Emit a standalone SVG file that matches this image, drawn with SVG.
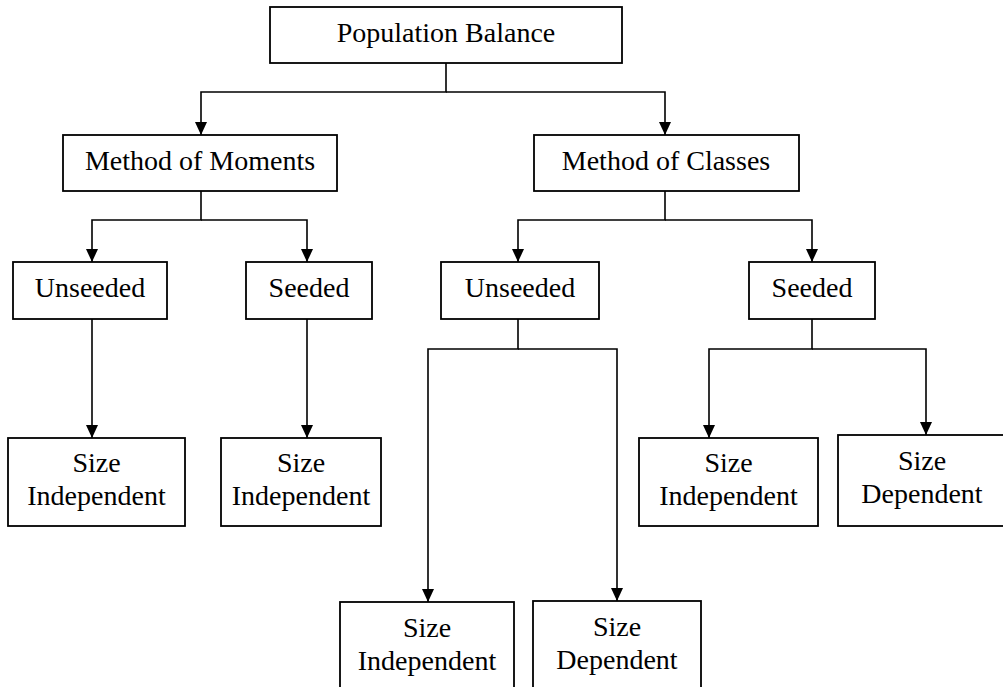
<svg xmlns="http://www.w3.org/2000/svg" width="1003" height="687" viewBox="0 0 1003 687">
  <style>
    .box { fill: #ffffff; stroke: #000000; stroke-width: 1.8; }
    .lbl { font-family: "Liberation Serif", "Times New Roman", serif; font-size: 28px; fill: #000000; text-anchor: middle; }
    .wire { fill: none; stroke: #000000; stroke-width: 1.6; }
    .arrow { marker-end: url(#head); }
  </style>
  <defs>
    <marker id="head" markerUnits="userSpaceOnUse" viewBox="0 0 13 12" refX="13" refY="6" markerWidth="13" markerHeight="12" orient="auto">
      <path d="M0,0 L13,6 L0,12 Z" fill="#000000"/>
    </marker>
  </defs>
  <rect width="1003" height="687" fill="#ffffff"/>

  <!-- connectors -->
  <g id="connectors">
    <path class="wire arrow" d="M446,63 V92 H201 V135"/>
    <path class="wire arrow" d="M446,92 H665 V135"/>
    <path class="wire arrow" d="M201,191 V220 H92 V262"/>
    <path class="wire arrow" d="M201,220 H307 V262"/>
    <path class="wire arrow" d="M665,191 V220 H518 V262"/>
    <path class="wire arrow" d="M665,220 H812 V262"/>
    <path class="wire arrow" d="M92,319 V438"/>
    <path class="wire arrow" d="M307,319 V438"/>
    <path class="wire arrow" d="M518,319 V349 H428 V602"/>
    <path class="wire arrow" d="M518,349 H617 V601"/>
    <path class="wire arrow" d="M812,319 V349 H709 V438"/>
    <path class="wire arrow" d="M812,349 H926 V435"/>
  </g>

  <g id="population-balance">
    <rect class="box" x="270" y="7" width="352" height="56"/>
    <text class="lbl" x="446" y="42">Population Balance</text>
  </g>

  <g id="method-of-moments">
    <rect class="box" x="63" y="135" width="274" height="56"/>
    <text class="lbl" x="200" y="170">Method of Moments</text>
  </g>

  <g id="method-of-classes">
    <rect class="box" x="534" y="135" width="265" height="56"/>
    <text class="lbl" x="666" y="170">Method of Classes</text>
  </g>

  <g id="mom-unseeded">
    <rect class="box" x="13" y="262" width="154" height="57"/>
    <text class="lbl" x="90" y="297">Unseeded</text>
  </g>

  <g id="mom-seeded">
    <rect class="box" x="246" y="262" width="126" height="57"/>
    <text class="lbl" x="309" y="297">Seeded</text>
  </g>

  <g id="moc-unseeded">
    <rect class="box" x="441" y="262" width="158" height="57"/>
    <text class="lbl" x="520" y="297">Unseeded</text>
  </g>

  <g id="moc-seeded">
    <rect class="box" x="749" y="262" width="126" height="57"/>
    <text class="lbl" x="812" y="297">Seeded</text>
  </g>

  <g id="mom-unseeded-size-independent">
    <rect class="box" x="8" y="438" width="177" height="88"/>
    <text class="lbl" x="96.5" y="472">Size</text>
    <text class="lbl" x="96.5" y="505">Independent</text>
  </g>

  <g id="mom-seeded-size-independent">
    <rect class="box" x="221" y="438" width="160" height="88"/>
    <text class="lbl" x="301" y="472">Size</text>
    <text class="lbl" x="301" y="505">Independent</text>
  </g>

  <g id="moc-seeded-size-independent">
    <rect class="box" x="639" y="438" width="179" height="88"/>
    <text class="lbl" x="728.5" y="472">Size</text>
    <text class="lbl" x="728.5" y="505">Independent</text>
  </g>

  <g id="moc-seeded-size-dependent">
    <rect class="box" x="838" y="435" width="167" height="91"/>
    <text class="lbl" x="922" y="470">Size</text>
    <text class="lbl" x="922" y="503">Dependent</text>
  </g>

  <g id="moc-unseeded-size-independent">
    <rect class="box" x="340" y="602" width="174" height="90"/>
    <text class="lbl" x="427" y="637">Size</text>
    <text class="lbl" x="427" y="670">Independent</text>
  </g>

  <g id="moc-unseeded-size-dependent">
    <rect class="box" x="533" y="601" width="168" height="91"/>
    <text class="lbl" x="617" y="636">Size</text>
    <text class="lbl" x="617" y="669">Dependent</text>
  </g>
</svg>
